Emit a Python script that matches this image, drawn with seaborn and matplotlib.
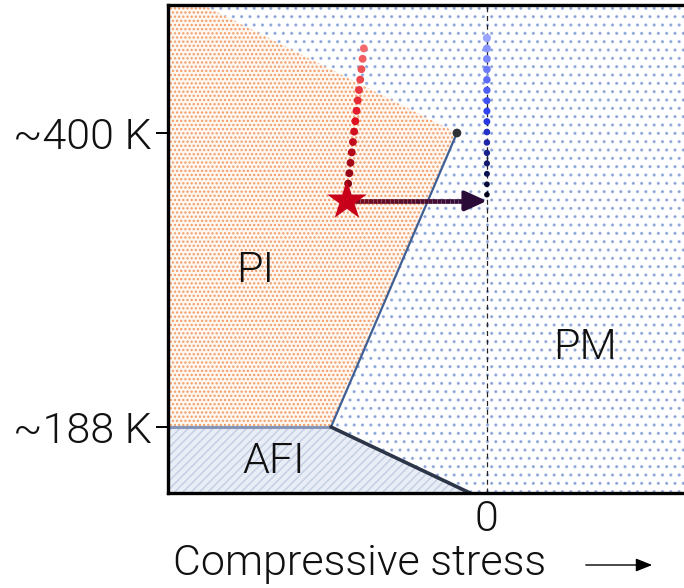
import numpy as np
import pandas as pd
import matplotlib
matplotlib.use("Agg")
import matplotlib.pyplot as plt
from matplotlib.patches import Polygon, FancyArrowPatch
from matplotlib.collections import LineCollection
import seaborn as sns

# ---- phase diagram data (x: compressive stress, arbitrary units; y: temperature, K) ----
x_range = [-1.0, 0.618]
t_range = [140.4, 492.3]

t_ticks = [188, 400]
t_tick_labels = ["~188 K", "~400 K"]
x_ticks = [0]
x_tick_labels = ["0"]

# phase boundaries
pi_pm_top = [-0.89, 492.3]          # PI / PM crossover reaching the top
critical_pt = [-0.094, 400.0]       # end point of the first-order line
triple_pt = [-0.489, 188.0]         # AFI / PI / PM meeting point
afi_pm_bottom = [-0.053, 140.4]     # AFI / PM line at the bottom edge

# heating / cooling trajectories
red_x = [-0.386, -0.439]
red_t = [461.0, 356.0]
blue_x = [0.0, 0.0]
blue_t = [468.5, 355.5]
star_pt = [-0.439, 351.0]
n_red, n_blue = 15, 16

region_labels = ["PI", "PM", "AFI"]
region_pos = [(-0.727, 301.0), (0.307, 245.0), (-0.67, 163.0)]

LIGHT = 300

sns.set_theme(style="white")
plt.rcParams["font.family"] = ["Roboto", "DejaVu Sans"]
plt.rcParams["hatch.linewidth"] = 1.1

fig = plt.figure(figsize=(6.84, 5.88), dpi=100)
ax = fig.add_axes([168 / 684, 95 / 588, 516 / 684, 488 / 588])
ax.set_xlim(*x_range)
ax.set_ylim(*t_range)

# ---- phase regions ----
xl, xr = x_range
tb, tt = t_range
pi_poly = [(xl, tt), tuple(pi_pm_top), tuple(critical_pt), tuple(triple_pt), (xl, triple_pt[1])]
afi_poly = [(xl, triple_pt[1]), tuple(triple_pt), tuple(afi_pm_bottom), (xl, tb)]
pm_poly = [tuple(pi_pm_top), (xr, tt), (xr, tb), tuple(afi_pm_bottom), tuple(triple_pt), tuple(critical_pt)]

ax.add_patch(Polygon(pm_poly, closed=True, facecolor="white", edgecolor="#5f80c8",
                     hatch="..", linewidth=0, zorder=1, alpha=0.55))
ax.add_patch(Polygon(pi_poly, closed=True, facecolor="#fff6ef", edgecolor="#ee8e52",
                     hatch="....", linewidth=0, zorder=2, alpha=0.85))
ax.add_patch(Polygon(afi_poly, closed=True, facecolor="#e8edf6", edgecolor="#c6d0e4",
                     hatch="////", linewidth=0, zorder=2))

# ---- boundary lines ----
bounds = pd.DataFrame({
    "x": [critical_pt[0], triple_pt[0]],
    "t": [critical_pt[1], triple_pt[1]],
})
sns.lineplot(data=bounds, x="x", y="t", sort=False, color="#3f5f95", linewidth=1.6, ax=ax, zorder=4)
afi_pi = pd.DataFrame({"x": [xl, triple_pt[0]], "t": [triple_pt[1], triple_pt[1]]})
sns.lineplot(data=afi_pi, x="x", y="t", sort=False, color="#8597b8", linewidth=2.2, ax=ax, zorder=4)
afi_pm = pd.DataFrame({"x": [triple_pt[0], afi_pm_bottom[0]], "t": [triple_pt[1], afi_pm_bottom[1]]})
sns.lineplot(data=afi_pm, x="x", y="t", sort=False, color="#2d3548", linewidth=2.6, ax=ax, zorder=4)

ax.axvline(0, color="#222222", linewidth=0.9, linestyle=(0, (4, 3)), zorder=3)

sns.scatterplot(x=[critical_pt[0]], y=[critical_pt[1]], color="#2e3136", s=40,
                edgecolor="none", ax=ax, zorder=6)

# ---- trajectories ----
red_df = pd.DataFrame({
    "x": np.linspace(red_x[0], red_x[1], n_red),
    "t": np.linspace(red_t[0], red_t[1], n_red),
    "k": range(n_red),
})
red_pal = sns.blend_palette(["#f46a6a", "#e01020", "#7a0010"], n_colors=n_red)
sns.scatterplot(data=red_df, x="x", y="t", hue="k", palette=red_pal, s=32,
                edgecolor="none", legend=False, ax=ax, zorder=7)

blue_df = pd.DataFrame({
    "x": np.linspace(blue_x[0], blue_x[1], n_blue),
    "t": np.linspace(blue_t[0], blue_t[1], n_blue),
    "k": range(n_blue),
})
blue_pal = sns.blend_palette(["#98a4ff", "#2a3cf0", "#000018"], n_colors=n_blue)
sns.scatterplot(data=blue_df, x="x", y="t", hue="k", palette=blue_pal, size="k",
                sizes=(34, 16), edgecolor="none", legend=False, ax=ax, zorder=7)

# arrow from the star to the zero-stress line
seg_x = np.linspace(star_pt[0], -0.05, 30)
pts = np.column_stack([seg_x, np.full_like(seg_x, star_pt[1])])
segs = np.stack([pts[:-1], pts[1:]], axis=1)
arrow_pal = sns.blend_palette(["#7c0c1e", "#2c0c3c"], n_colors=len(segs))
ax.add_collection(LineCollection(segs, colors=arrow_pal, linewidths=3.4, zorder=8))
ax.annotate("", xy=(0.0, star_pt[1]), xytext=(-0.06, star_pt[1]),
            arrowprops=dict(arrowstyle="-|>,head_length=1.1,head_width=0.5",
                            color="#2a0a36", lw=3.0, shrinkA=0, shrinkB=0), zorder=9)

ax.scatter([star_pt[0]], [star_pt[1]], marker="*", s=900, color="#c8001a",
           edgecolor="none", zorder=10)

# ---- region labels ----
for lab, (px, pt) in zip(region_labels, region_pos):
    ax.text(px, pt, lab, fontsize=31, fontweight=LIGHT, color="#111111",
            ha="center", va="center", zorder=11)

# ---- axes styling ----
ax.set_yticks(t_ticks)
ax.set_yticklabels(t_tick_labels, fontsize=31, fontweight=LIGHT, color="#111111")
ax.set_xticks(x_ticks)
ax.set_xticklabels(x_tick_labels, fontsize=31, fontweight=LIGHT, color="#111111")
ax.tick_params(axis="y", length=9, width=1.4, color="black", pad=3, left=True, direction="out")
ax.tick_params(axis="x", length=0, pad=4)
ax.set_xlabel("")
ax.set_ylabel("")
ax.grid(False)
for side in ["left", "bottom", "top"]:
    ax.spines[side].set_color("black")
    ax.spines[side].set_linewidth(2.4)
    ax.spines[side].set_zorder(12)
ax.spines["right"].set_visible(False)

fig.text(173 / 684, 1 - 563 / 588, "Compressive stress", fontsize=31, fontweight=LIGHT,
         color="#111111", ha="left", va="center")
fig.add_artist(FancyArrowPatch(
    (583 / 684, 1 - 565 / 588), (655 / 684, 1 - 565 / 588), transform=fig.transFigure,
    arrowstyle="-|>,head_length=0.5,head_width=0.2", color="black", lw=1.0,
    mutation_scale=20))

fig.savefig("out.png", dpi=100)
